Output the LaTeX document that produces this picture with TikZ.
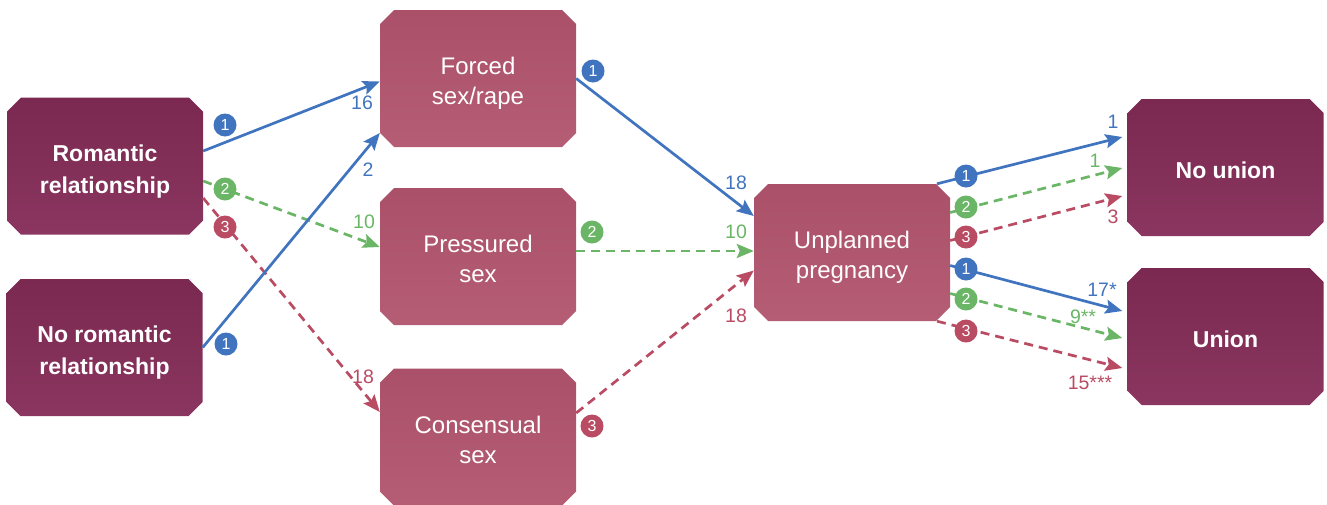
\documentclass[tikz,border=0pt]{standalone}
\usepackage{fontspec}
\setmainfont{Liberation Sans}
\usetikzlibrary{shapes.misc,arrows.meta,calc}
\definecolor{darkA}{HTML}{7B2951}
\definecolor{darkB}{HTML}{8A3660}
\definecolor{lightA}{HTML}{AA5169}
\definecolor{lightB}{HTML}{B55D74}
\definecolor{cblue}{HTML}{4174BF}
\definecolor{cgreen}{HTML}{6AB566}
\definecolor{cred}{HTML}{B94B63}
\newcommand{\boxtext}[1]{\raisebox{-5pt}[\height][\depth]{\begin{tabular}{@{}c@{}}#1\end{tabular}}}
\tikzset{
  boxbase/.style={chamfered rectangle, chamfered rectangle xsep=7pt, chamfered rectangle ysep=7pt,
    minimum width=196pt, minimum height=137pt, inner sep=0pt, text=white, align=center},
  darkbox/.style={boxbase, top color=darkA, bottom color=darkB,
    font=\bfseries\fontsize{23}{32}\selectfont},
  lightbox/.style={boxbase, top color=lightA, bottom color=lightB,
    font=\fontsize{24}{30}\selectfont},
  conn/.style={line width=2.7pt, -{Stealth[length=17pt,width=14pt,inset=3pt]}},
  dashconn/.style={conn, dash pattern=on 9pt off 6pt},
  badge/.style={circle, fill=#1, text=white, inner sep=0pt, minimum size=23pt,
    font=\fontsize{16}{16}\selectfont},
  num/.style={text=#1, inner sep=0pt, font=\fontsize{19.5}{20}\selectfont},
}
\begin{document}
\begin{tikzpicture}[x=1pt,y=-1pt]
\useasboundingbox (0,0) rectangle (1327,504);
% boxes
\node[darkbox] (rom) at (105,166) {\boxtext{Romantic\\relationship}};
\node[darkbox] (norom) at (104.5,347.5) {\boxtext{No romantic\\relationship}};
\node[lightbox] (forced) at (478,78.5) {\boxtext{Forced\\sex/rape}};
\node[lightbox] (pressured) at (478,256.5) {\boxtext{Pressured\\sex}};
\node[lightbox] (consensual) at (478,437) {\boxtext{Consensual\\sex}};
\node[lightbox] (unpl) at (852,252.5) {\boxtext{Unplanned\\pregnancy}};
\node[darkbox] (nounion) at (1225.5,167.5) {\boxtext{No union}};
\node[darkbox] (union) at (1225.5,336.5) {\boxtext{Union}};
% connectors left
\draw[conn, cblue] ($(rom.east)+(0,-15)$) -- ($(forced.west)+(0,3)$);
\draw[dashconn, cgreen] ($(rom.east)+(0,15)$) -- ($(pressured.west)+(0,-9.5)$);
\draw[dashconn, cred] ($(rom.east)+(0,32)$) -- ($(consensual.west)+(0,-25)$);
\draw[conn, cblue] (norom.east) -- ($(forced.west)+(0,54.5)$);
% connectors middle
\draw[conn, cblue] (forced.east) -- ($(unpl.west)+(0,-36.5)$);
\draw[dashconn, cgreen] ($(pressured.east)+(0,-5.5)$) -- ($(unpl.west)+(0,-1.5)$);
\draw[dashconn, cred] ($(consensual.east)+(0,-24)$) -- ($(unpl.west)+(0,18)$);
% connectors right
\draw[conn, cblue] ($(unpl.north)+(85,0)$) -- ($(nounion.west)+(-5,-30.5)$);
\draw[dashconn, cgreen] ($(unpl.east)+(0,-40)$) -- ($(nounion.west)+(-5,0.5)$);
\draw[dashconn, cred] ($(unpl.east)+(0,-12)$) -- ($(nounion.west)+(-5,28.5)$);
\draw[conn, cblue] ($(unpl.east)+(0,13)$) -- ($(union.west)+(-5,-25.5)$);
\draw[dashconn, cgreen] ($(unpl.east)+(0,41)$) -- ($(union.west)+(-5,1.5)$);
\draw[dashconn, cred] ($(unpl.south)+(85,0)$) -- ($(union.west)+(-5,31.5)$);
% badges
\node[badge=cblue] (b1) at (225,125) {1};
\node[badge=cgreen] (b2) at (225,189) {2};
\node[badge=cred] (b3) at (225,227) {3};
\node[badge=cblue] (b4) at (226,344) {1};
\node[badge=cblue] (b5) at (593,71) {1};
\node[badge=cgreen] (b6) at (592,232) {2};
\node[badge=cred] (b7) at (592,426) {3};
\node[badge=cblue] (b8) at (966,176) {1};
\node[badge=cgreen] (b9) at (966,207) {2};
\node[badge=cred] (b10) at (966,237) {3};
\node[badge=cblue] (b11) at (966,269) {1};
\node[badge=cgreen] (b12) at (966,299) {2};
\node[badge=cred] (b13) at (966,331) {3};
% numbers
\node[num=cblue] (n1) at (362,103) {16};
\node[num=cblue] (n2) at (368,170) {2};
\node[num=cgreen] (n3) at (364,222) {10};
\node[num=cred] (n4) at (363,377) {18};
\node[num=cblue] (n5) at (736,183) {18};
\node[num=cgreen] (n6) at (736,232) {10};
\node[num=cred] (n7) at (736,316) {18};
\node[num=cblue] (n8) at (1113,122) {1};
\node[num=cgreen] (n9) at (1095,161) {1};
\node[num=cred] (n10) at (1113,217) {3};
\node[num=cblue] (n11) at (1102,290) {17*};
\node[num=cgreen] (n12) at (1083,317) {9**};
\node[num=cred] (n13) at (1090,383) {15***};
\end{tikzpicture}
\end{document}
